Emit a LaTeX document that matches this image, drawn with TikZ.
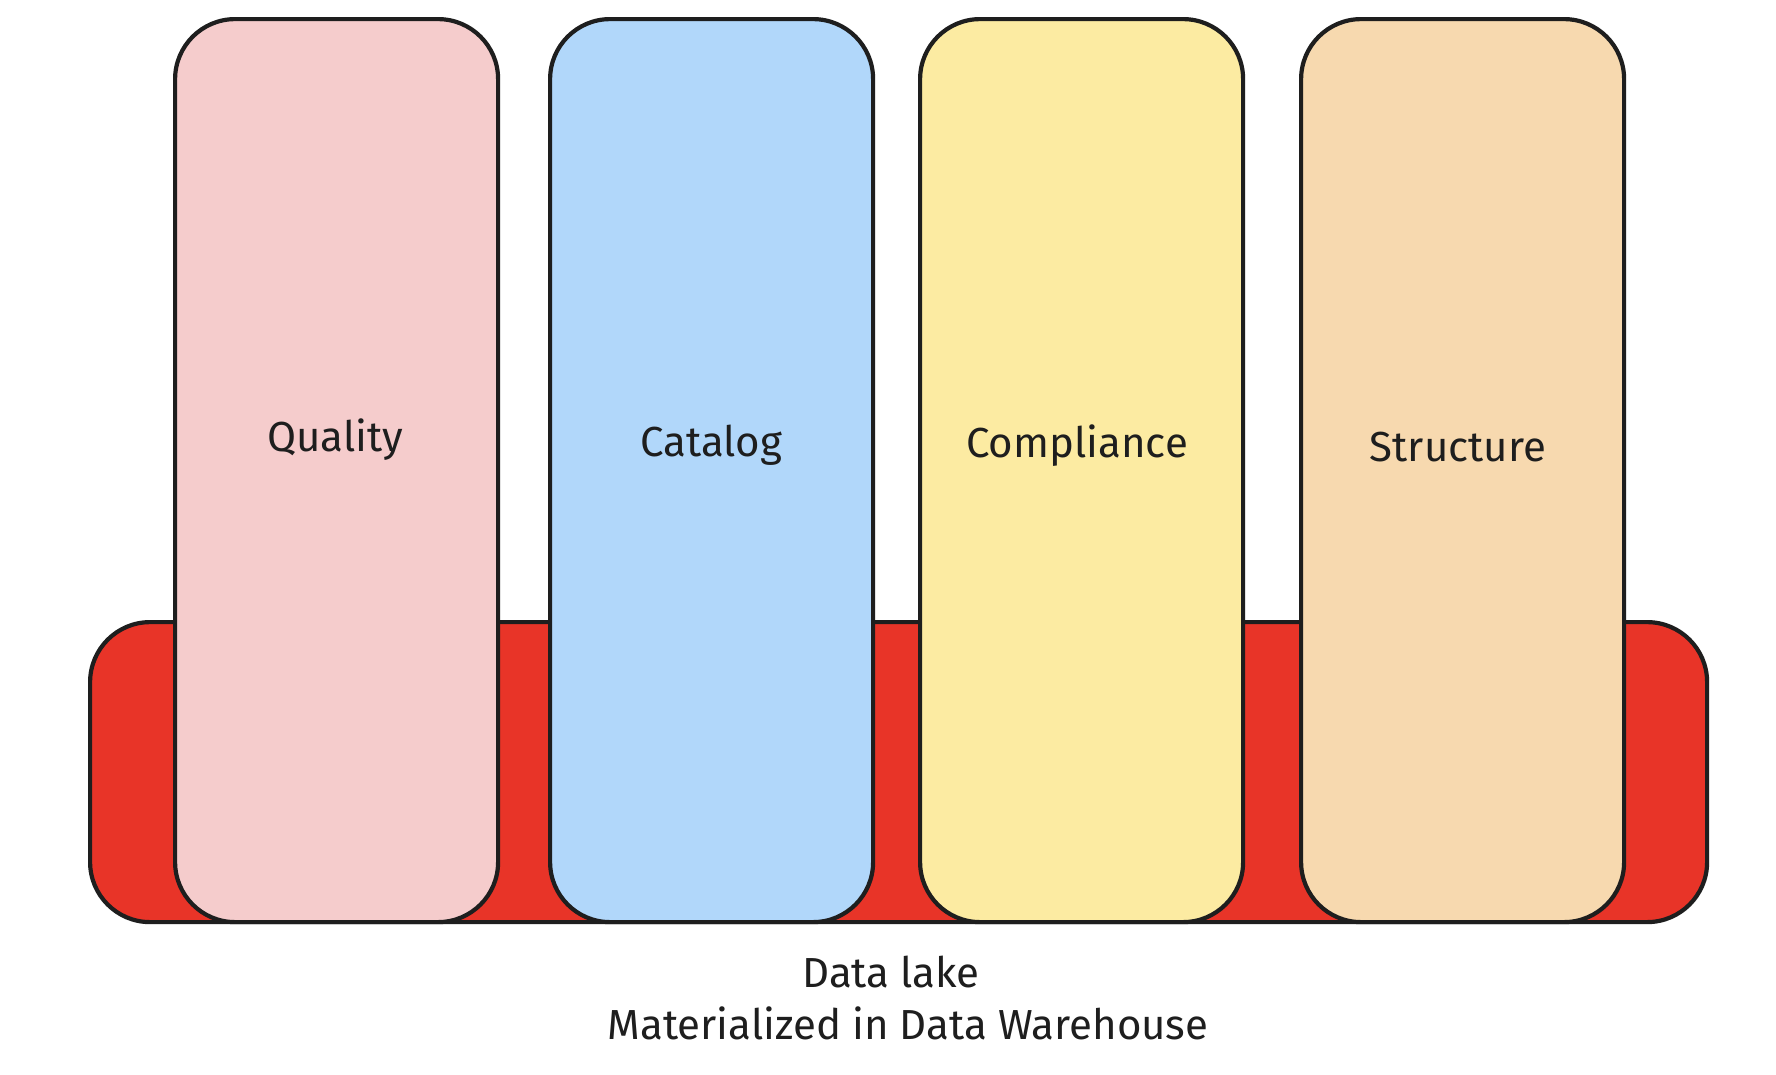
\documentclass[tikz,border=0pt]{standalone}
\usepackage{fontspec}
\setmainfont{Fira Sans}
\definecolor{strokec}{HTML}{1E1E1E}
\definecolor{lakered}{HTML}{E83428}
\definecolor{pinkc}{HTML}{F5CCCC}
\definecolor{bluec}{HTML}{B1D7FA}
\definecolor{yellowc}{HTML}{FCEBA2}
\definecolor{orangec}{HTML}{F7D9AF}
\begin{document}
\begin{tikzpicture}[x=1pt,y=-1pt,
  box/.style={draw=strokec, line width=4.2pt, rounded corners=60pt, inner sep=0pt, anchor=north west},
  colbox/.style={box, minimum width=323pt, minimum height=903pt},
  lbl/.style={text=strokec, font=\fontsize{42}{50}\selectfont},
]
\useasboundingbox[fill=white] (0,0) rectangle (1776,1074);
\node[box, fill=lakered, minimum width=1617pt, minimum height=300pt] (lake) at (88,620) {};
\node[colbox, fill=pinkc] (quality) at (173,17) {};
\node[colbox, fill=bluec] (catalog) at (548,17) {};
\node[colbox, fill=yellowc] (compliance) at (918,17) {};
\node[colbox, fill=orangec] (structure) at (1299,17) {};
\node[lbl] (tq) at (335,440) {Quality};
\node[lbl] (tc) at (711,445) {Catalog};
\node[lbl] (tp) at (1077,446) {Compliance};
\node[lbl] (ts) at (1458,447) {Structure};
\node[lbl] (label1) at (891,972) {Data lake};
\node[lbl] (label2) at (908,1023) {Materialized in Data Warehouse};
\end{tikzpicture}
\end{document}
